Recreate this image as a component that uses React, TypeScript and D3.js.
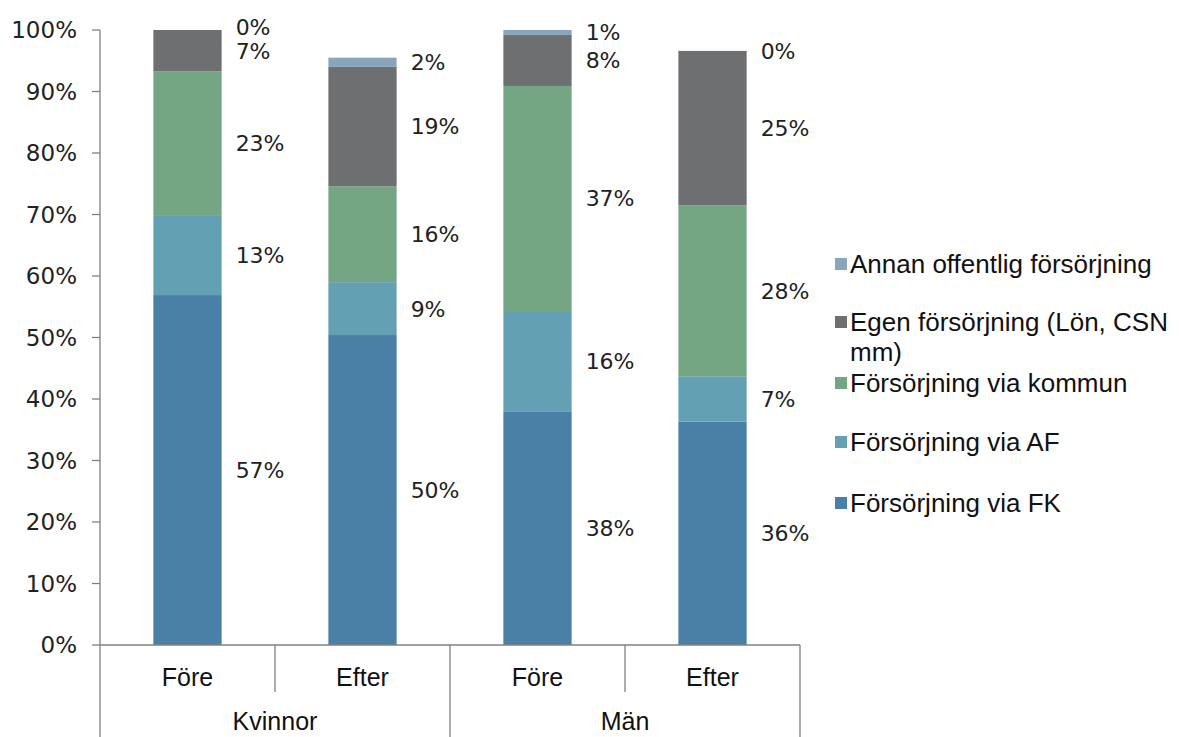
import React from 'react';
import * as d3 from 'd3';

// categories (bottom axis)
const bars = ['Kvinnor Före', 'Kvinnor Efter', 'Män Före', 'Män Efter'];
const barLabels = ['Före', 'Efter', 'Före', 'Efter'];
const groups = ['Kvinnor', 'Män'];

// series, bottom to top of the stack
const seriesNames = [
  'Försörjning via FK',
  'Försörjning via AF',
  'Försörjning via kommun',
  'Egen försörjning (Lön, CSN mm)',
  'Annan offentlig försörjning',
];
const seriesColors = ['#4a7fa6', '#63a0b3', '#75a684', '#6e6f71', '#88a5bb'];

const fkValues = [56.9, 50.4, 38.0, 36.3];
const afValues = [13.0, 8.6, 16.3, 7.4];
const kommunValues = [23.4, 15.6, 36.6, 27.8];
const egenValues = [6.7, 19.4, 8.3, 25.1];
const annanValues = [0.0, 1.5, 0.8, 0.0];

const yTicks = [0, 10, 20, 30, 40, 50, 60, 70, 80, 90, 100];

const W = 1181;
const H = 737;
const M = { left: 100, right: 800, top: 30, bottom: 645 };

export default function App() {
  const x = d3.scaleBand<string>().domain(bars).range([M.left, M.right]).paddingInner(0.61).paddingOuter(0.305);
  const band = d3.scaleBand<string>().domain(bars).range([M.left, M.right]);
  const gx = d3.scaleBand<string>().domain(groups).range([M.left, M.right]);
  const y = d3.scaleLinear().domain([0, 100]).range([M.bottom, M.top]);

  const table = bars.map((b, i) => ({
    bar: b,
    s0: fkValues[i],
    s1: afValues[i],
    s2: kommunValues[i],
    s3: egenValues[i],
    s4: annanValues[i],
  }));
  const keys = ['s0', 's1', 's2', 's3', 's4'];
  const stacked = d3.stack<any>().keys(keys)(table);

  // value labels at segment middles, nudged up where they would collide
  const labels: { x: number; y: number; t: string }[] = [];
  bars.forEach((b, i) => {
    const ys = stacked.map((s) => y((s[i][0] + s[i][1]) / 2));
    const vals = stacked.map((s) => s[i][1] - s[i][0]);
    for (let k = 1; k < ys.length; k++) {
      if (ys[k - 1] - ys[k] < 24) ys[k] = ys[k - 1] - 24;
    }
    ys.forEach((yy, k) => {
      labels.push({ x: (x(b) as number) + x.bandwidth() + 14, y: yy, t: Math.round(vals[k]) + '%' });
    });
  });

  const legendRows = [264, 322, 383, 442, 503];
  const legendOrder = [4, 3, 2, 1, 0];

  return (
    <svg width={W} height={H} style={{ position: 'absolute', left: 0, top: 0, background: '#fff' }}>
      {/* bars */}
      {stacked.map((s, k) => (
        <g key={k} fill={seriesColors[k]}>
          {s.map((d, i) => (
            <rect
              key={i}
              x={x(bars[i])}
              width={x.bandwidth()}
              y={y(d[1])}
              height={Math.max(0, y(d[0]) - y(d[1]))}
            />
          ))}
        </g>
      ))}

      {/* axes */}
      <g stroke="#808080" strokeWidth={1.3}>
        <line x1={M.left} x2={M.left} y1={M.top} y2={H} />
        {yTicks.map((t) => (
          <line key={t} x1={M.left - 8} x2={M.left} y1={y(t)} y2={y(t)} />
        ))}
        <line x1={M.left} x2={M.right} y1={M.bottom} y2={M.bottom} />
        <line x1={M.right} x2={M.right} y1={M.bottom} y2={H} />
        <line x1={gx('Män')} x2={gx('Män')} y1={M.bottom} y2={H} />
        {bars.map((b, i) =>
          i % 2 === 1 ? (
            <line key={b} x1={band(b)} x2={band(b)} y1={M.bottom} y2={692} />
          ) : null
        )}
      </g>
      <g fontFamily="DejaVu Sans" fontSize={23} fill="#222" textAnchor="end">
        {yTicks.map((t) => (
          <text key={t} x={77} y={y(t)} dy="0.36em">
            {t}%
          </text>
        ))}
      </g>

      {/* category labels */}
      <g fontFamily="Liberation Sans, Arial" fontSize={25} fill="#111" textAnchor="middle">
        {bars.map((b, i) => (
          <text key={b} x={(band(b) as number) + band.bandwidth() / 2} y={686}>
            {barLabels[i]}
          </text>
        ))}
        {groups.map((g) => (
          <text key={g} x={(gx(g) as number) + gx.bandwidth() / 2} y={730}>
            {g}
          </text>
        ))}
      </g>

      {/* value labels */}
      <g fontFamily="DejaVu Sans" fontSize={22} fill="#222">
        {labels.map((l, i) => (
          <text key={i} x={l.x} y={l.y} dy="0.36em">
            {l.t}
          </text>
        ))}
      </g>

      {/* legend */}
      <g fontFamily="Liberation Sans, Arial" fontSize={26} fill="#111">
        {legendOrder.map((k, r) => {
          const cy = legendRows[r];
          const name = seriesNames[k];
          const lines = name.startsWith('Egen') ? ['Egen försörjning (Lön, CSN', 'mm)'] : [name];
          return (
            <g key={k}>
              <rect x={835} y={cy - 6} width={12} height={12} fill={seriesColors[k]} />
              {lines.map((ln, j) => (
                <text key={j} x={850} y={cy + j * 30} dy="0.36em">
                  {ln}
                </text>
              ))}
            </g>
          );
        })}
      </g>
    </svg>
  );
}
